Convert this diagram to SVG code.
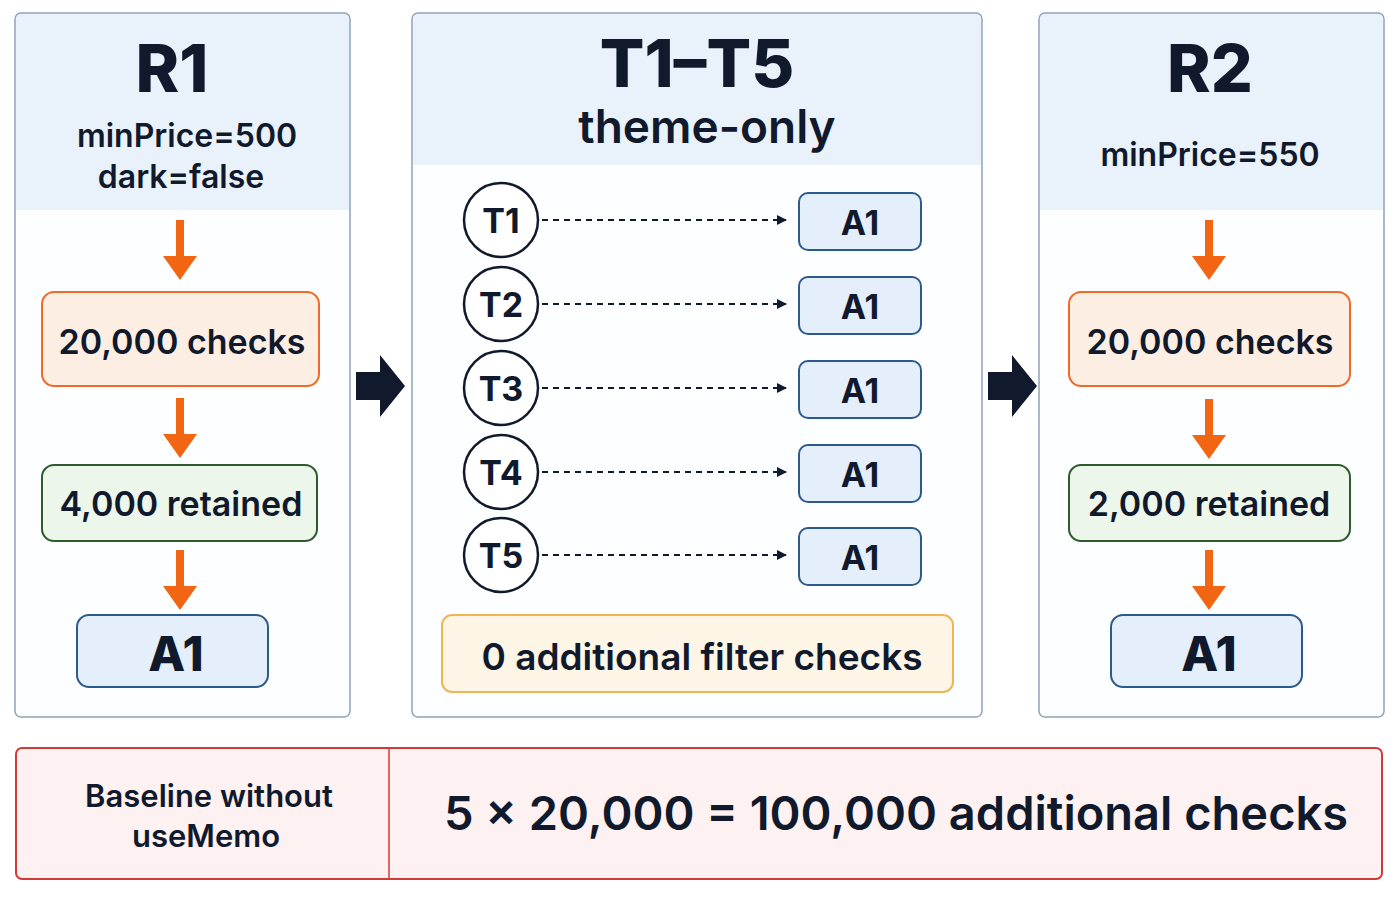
<svg xmlns="http://www.w3.org/2000/svg" width="1400" height="900" viewBox="0 0 1400 900">
<style>
text{font-family:Inter,"Noto Sans","DejaVu Sans",sans-serif;fill:#111a2c;text-anchor:middle}
.panel{fill:#fdfeff;stroke:#8fa3b8;stroke-width:1.5}
.hdr{fill:#e9f1fa}
.title{font-size:66px;font-weight:800}
.sub{font-size:32px;font-weight:600}
.orange{fill:#fdeee4;stroke:#ef6b2a;stroke-width:2}
.green{fill:#edf6ea;stroke:#2f5a2e;stroke-width:2}
.blue{fill:#e4effb;stroke:#2c5a8c;stroke-width:2}
.box{font-size:34px;font-weight:600}
.a1{font-size:48px;font-weight:800}
.a1s{font-size:34px;font-weight:700}
.circ{fill:#fff;stroke:#111a2c;stroke-width:2.5}
.dash{stroke:#111a2c;stroke-width:2;stroke-dasharray:6,5;fill:none}
.oar{fill:#f26512}
</style>
<defs>
<marker id="ah" markerWidth="10" markerHeight="10" refX="9" refY="5" orient="auto" markerUnits="userSpaceOnUse" viewBox="0 0 10 10"><path d="M0,0L10,5L0,10z" fill="#111a2c"/></marker>
<g id="oa"><rect x="-4" y="0" width="8" height="40" class="oar"/><path d="M-17,36L17,36L0,60z" class="oar"/></g>
</defs>
<g id="r1">
<rect x="15" y="13" width="335" height="704" rx="6" class="panel"/>
<path d="M16,210V19a5,5 0 0 1 5,-5H344a5,5 0 0 1 5,5V210z" class="hdr"/>
<text x="172" y="92" class="title">R1</text>
<text x="187" y="147" class="sub">minPrice=500</text>
<text x="181" y="188" class="sub">dark=false</text>
<use href="#oa" x="180" y="220"/>
<rect x="42" y="292" width="277" height="94" rx="12" class="orange"/>
<text x="182" y="354" class="box">20,000 checks</text>
<use href="#oa" x="180" y="398"/>
<rect x="42" y="465" width="275" height="76" rx="12" class="green"/>
<text x="181" y="516" class="box">4,000 retained</text>
<use href="#oa" x="180" y="550"/>
<rect x="77" y="615" width="191" height="72" rx="12" class="blue"/>
<text x="176" y="671" class="a1">A1</text>
</g>
<g id="mid">
<rect x="412" y="13" width="570" height="704" rx="6" class="panel"/>
<path d="M413,165V19a5,5 0 0 1 5,-5H976a5,5 0 0 1 5,5V165z" class="hdr"/>
<text x="697" y="87" class="title">T1–T5</text>
<text x="707" y="143" style="font-size:46px;font-weight:600">theme-only</text>
<g id="t1"><circle cx="501" cy="220" r="37" class="circ"/><text x="501" y="233" class="a1s">T1</text></g>
<g id="t2"><circle cx="501" cy="304" r="37" class="circ"/><text x="501" y="317" class="a1s">T2</text></g>
<g id="t3"><circle cx="501" cy="388" r="37" class="circ"/><text x="501" y="401" class="a1s">T3</text></g>
<g id="t4"><circle cx="501" cy="472" r="37" class="circ"/><text x="501" y="485" class="a1s">T4</text></g>
<g id="t5"><circle cx="501" cy="555" r="37" class="circ"/><text x="501" y="568" class="a1s">T5</text></g>
<g id="a1s">
<rect x="799" y="193" width="122" height="57" rx="9" class="blue"/><text x="860" y="235" class="a1s">A1</text>
<rect x="799" y="277" width="122" height="57" rx="9" class="blue"/><text x="860" y="319" class="a1s">A1</text>
<rect x="799" y="361" width="122" height="57" rx="9" class="blue"/><text x="860" y="403" class="a1s">A1</text>
<rect x="799" y="445" width="122" height="57" rx="9" class="blue"/><text x="860" y="487" class="a1s">A1</text>
<rect x="799" y="528" width="122" height="57" rx="9" class="blue"/><text x="860" y="570" class="a1s">A1</text>
</g>
<rect x="442" y="615" width="511" height="77" rx="10" fill="#fdf5e6" stroke="#f2b452" stroke-width="2"/>
<text x="702" y="670" style="font-size:37px;font-weight:600">0 additional filter checks</text>
</g>
<g id="r2">
<rect x="1039" y="13" width="345" height="704" rx="6" class="panel"/>
<path d="M1040,210V19a5,5 0 0 1 5,-5H1378a5,5 0 0 1 5,5V210z" class="hdr"/>
<text x="1210" y="92" class="title">R2</text>
<text x="1210" y="166" class="sub">minPrice=550</text>
<use href="#oa" x="1209" y="220"/>
<rect x="1069" y="292" width="281" height="94" rx="12" class="orange"/>
<text x="1210" y="354" class="box">20,000 checks</text>
<use href="#oa" x="1209" y="399"/>
<rect x="1069" y="465" width="281" height="76" rx="12" class="green"/>
<text x="1209" y="516" class="box">2,000 retained</text>
<use href="#oa" x="1209" y="550"/>
<rect x="1111" y="615" width="191" height="72" rx="12" class="blue"/>
<text x="1209" y="671" class="a1">A1</text>
</g>
<g id="connectors">
<line x1="542" y1="220" x2="786" y2="220" class="dash" marker-end="url(#ah)"/>
<line x1="542" y1="304" x2="786" y2="304" class="dash" marker-end="url(#ah)"/>
<line x1="542" y1="388" x2="786" y2="388" class="dash" marker-end="url(#ah)"/>
<line x1="542" y1="472" x2="786" y2="472" class="dash" marker-end="url(#ah)"/>
<line x1="542" y1="555" x2="786" y2="555" class="dash" marker-end="url(#ah)"/>
<path d="M356,372H380V355L405,386L380,417V400H356z" fill="#111a2c"/>
<path d="M988,372H1012V355L1037,386L1012,417V400H988z" fill="#111a2c"/>
</g>
<g id="baseline">
<rect x="16" y="748" width="1366" height="131" rx="6" fill="#fdf1f1" stroke="#d23a3a" stroke-width="2"/>
<line x1="389" y1="749" x2="389" y2="878" stroke="#d23a3a" stroke-width="1.5"/>
<text x="209" y="807" style="font-size:31px;font-weight:600">Baseline without</text>
<text x="206" y="847" style="font-size:31px;font-weight:600">useMemo</text>
<text x="896" y="830" style="font-size:47px;font-weight:600">5 x 20,000 = 100,000 additional checks</text>
</g>
</svg>
